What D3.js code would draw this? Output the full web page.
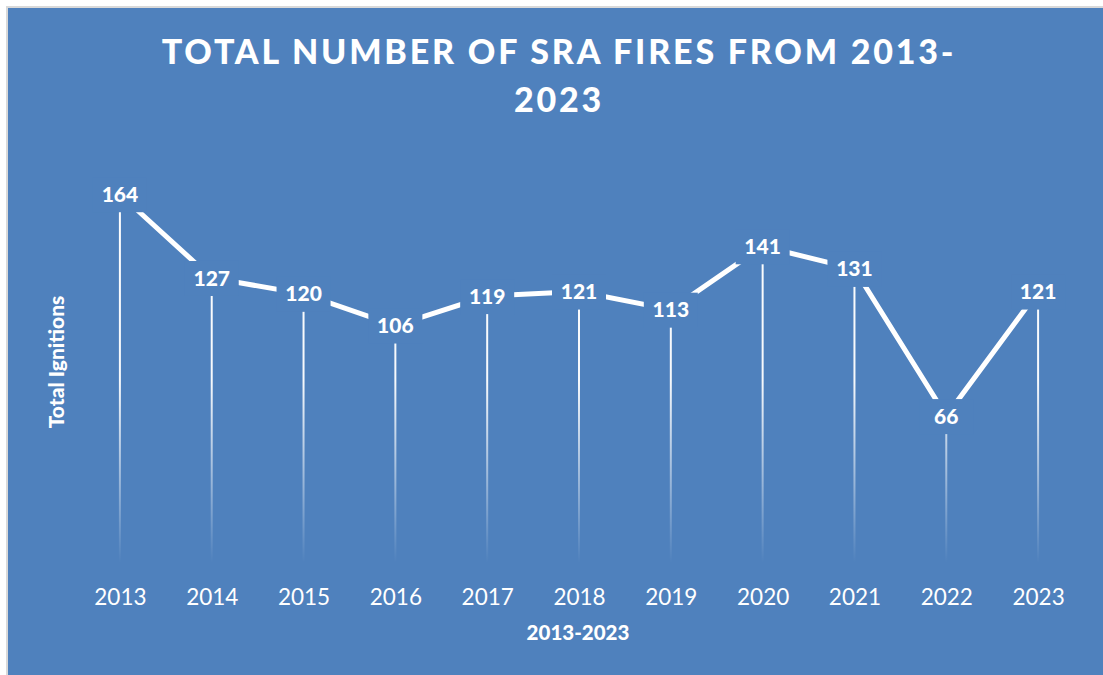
<!DOCTYPE html>
<html>
<head>
<meta charset="UTF-8">
<script src="https://d3js.org/d3.v7.min.js"></script>
<style>
  body { margin: 0; background: #fff; }
  svg { display: block; font-family: Lato, "Open Sans", sans-serif; }
</style>
</head>
<body>
<div id="chart"></div>
<script>
// data
var years = ['2013', '2014', '2015', '2016', '2017', '2018', '2019', '2020', '2021', '2022', '2023']
var ignitions = [164, 127, 120, 106, 119, 121, 113, 141, 131, 66, 121]
var yMax = 180

var W = 1103, H = 675
var bg = '#4f81bd'
var margin = { top: 158, left: 74, right: 1084, bottom: 565.5 }

var svg = d3.select('#chart').append('svg')
  .attr('width', W)
  .attr('height', H)

// chart frame
svg.append('rect')
  .attr('x', 7).attr('y', 7)
  .attr('width', W).attr('height', H)
  .attr('fill', bg)
  .attr('stroke', '#d9d9d9')
  .attr('stroke-width', 2)

var defs = svg.append('defs')
var grad = defs.append('linearGradient')
  .attr('id', 'drop')
  .attr('gradientUnits', 'userSpaceOnUse')
  .attr('x1', 0).attr('x2', 0)
  .attr('y1', margin.top).attr('y2', margin.bottom - 3)
grad.append('stop').attr('offset', '0%').attr('stop-color', '#fff').attr('stop-opacity', 1)
grad.append('stop').attr('offset', '55%').attr('stop-color', '#fff').attr('stop-opacity', 0.95)
grad.append('stop').attr('offset', '100%').attr('stop-color', '#fff').attr('stop-opacity', 0)

var x = d3.scalePoint()
  .domain(years)
  .range([margin.left, margin.right])
  .padding(0.5)

var y = d3.scaleLinear()
  .domain([0, yMax])
  .range([margin.bottom, margin.top])

// title
var title = svg.append('text')
  .attr('x', 559)
  .attr('text-anchor', 'middle')
  .attr('fill', '#fff')
  .attr('font-weight', 900)
  .attr('font-size', 34)
  .attr('letter-spacing', 2.8)
title.append('tspan').attr('x', 559).attr('y', 64).text('TOTAL NUMBER OF SRA FIRES FROM 2013-')
title.append('tspan').attr('x', 559).attr('y', 112).text('2023')

// drop lines
svg.append('g')
  .selectAll('line')
  .data(ignitions)
  .join('line')
  .attr('x1', (d, i) => x(years[i]))
  .attr('x2', (d, i) => x(years[i]))
  .attr('y1', d => y(d))
  .attr('y2', y(0))
  .attr('stroke', 'url(#drop)')
  .attr('stroke-width', 2)

// the series line
var line = d3.line()
  .x((d, i) => x(years[i]))
  .y(d => y(d))

svg.append('path')
  .datum(ignitions)
  .attr('d', line)
  .attr('fill', 'none')
  .attr('stroke', '#fff')
  .attr('stroke-width', 5)
  .attr('stroke-linejoin', 'miter')

// data labels with background boxes
var labels = svg.append('g')
  .selectAll('g')
  .data(ignitions)
  .join('g')
  .attr('transform', (d, i) => 'translate(' + x(years[i]) + ',' + y(d) + ')')

labels.append('rect')
  .attr('x', -27)
  .attr('y', -17)
  .attr('width', 54)
  .attr('height', 35)
  .attr('fill', bg)

labels.append('text')
  .attr('text-anchor', 'middle')
  .attr('dy', '0.36em')
  .attr('fill', '#fff')
  .attr('font-weight', 900)
  .attr('font-size', 21)
  .text(d => d)

// x axis
var xAxis = svg.append('g')
  .attr('transform', 'translate(0,' + (y(0) + 17) + ')')
  .call(d3.axisBottom(x).tickSize(0).tickPadding(0))
xAxis.select('.domain').remove()
xAxis.selectAll('text')
  .attr('fill', '#fff')
  .attr('font-size', 22.5)
  .attr('font-family', 'Lato, "Open Sans", sans-serif')
  .attr('dy', '1em')

// axis titles
svg.append('text')
  .attr('x', 578)
  .attr('y', 640)
  .attr('text-anchor', 'middle')
  .attr('fill', '#fff')
  .attr('font-weight', 900)
  .attr('font-size', 20.5)
  .text('2013-2023')

svg.append('text')
  .attr('transform', 'translate(64,362) rotate(-90)')
  .attr('text-anchor', 'middle')
  .attr('fill', '#fff')
  .attr('font-weight', 900)
  .attr('font-size', 21)
  .text('Total Ignitions')
</script>
</body>
</html>
